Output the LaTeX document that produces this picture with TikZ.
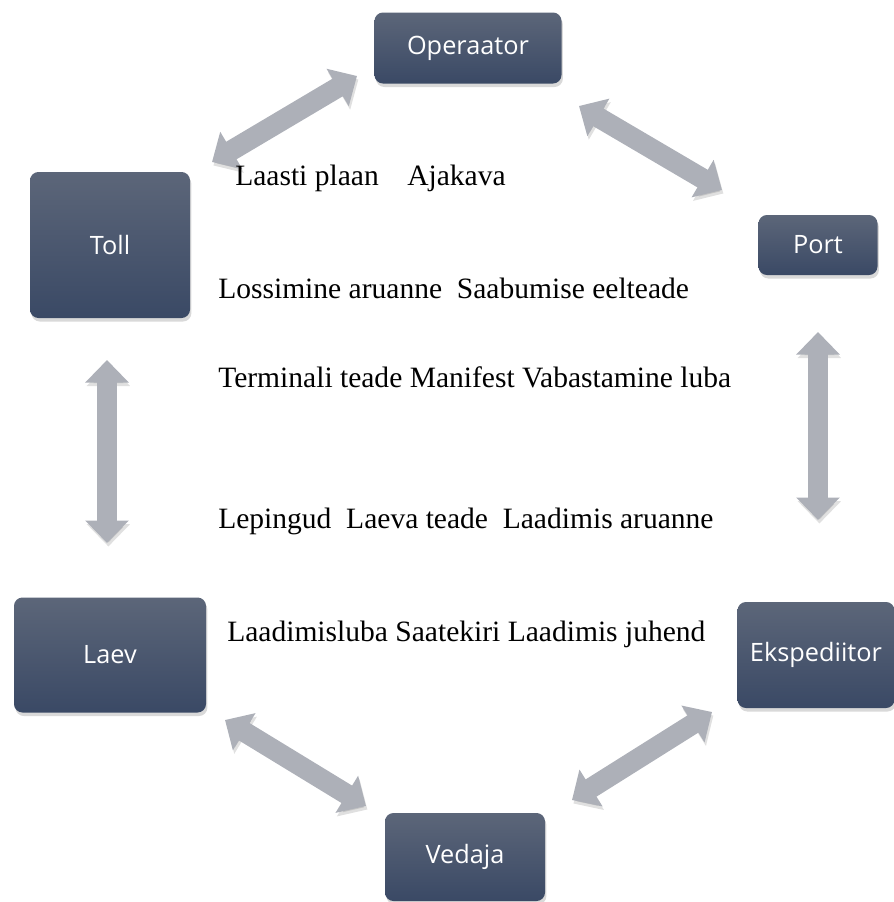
\documentclass[tikz,border=0pt]{standalone}
\usepackage{fontspec}
\setmainfont{Liberation Serif}
\newfontfamily\boxfont{Open Sans}
\usetikzlibrary{arrows.meta,shadows}

\definecolor{boxtop}{HTML}{5C6679}
\definecolor{boxbottom}{HTML}{3A4965}
\definecolor{arrowgray}{HTML}{ADB0B8}

\begin{document}
\begin{tikzpicture}[x=0.025cm, y=-0.025cm,
    party/.style={rounded corners=6pt, top color=boxtop, bottom color=boxbottom,
      text=white, font=\boxfont\fontsize{18}{20}\selectfont,
      drop shadow={shadow xshift=1pt, shadow yshift=-2.5pt, opacity=0.3}},
    flow/.style={line width=14.5pt, draw=arrowgray,
      {Triangle[width=30pt,length=16pt]}-{Triangle[width=30pt,length=16pt]},
      preaction={draw=black, opacity=0.12, transform canvas={shift={(1pt,-2.5pt)}}}},
    doc/.style={anchor=base west, inner sep=0pt, font=\fontsize{21}{24}\selectfont}]
  \def\px{0.025cm}
  \useasboundingbox (0,0) rectangle (894,902);

  \node[party, minimum width=187*\px, minimum height=71*\px] (operaator) at (468,48) {Operaator};
  \node[party, minimum width=160*\px, minimum height=146*\px] (toll) at (110,245) {Toll};
  \node[party, minimum width=119*\px, minimum height=60*\px] (port) at (818,245) {Port};
  \node[party, minimum width=157*\px, minimum height=106*\px] (ekspediitor) at (816,655) {Ekspediitor};
  \node[party, minimum width=192*\px, minimum height=115*\px] (laev) at (110,655) {Laev};
  \node[party, minimum width=160*\px, minimum height=88*\px] (vedaja) at (465,857) {Vedaja};

  % arrow ends
  \coordinate (toll-op) at (212,162);
  \coordinate (op-toll) at (357,76);
  \coordinate (op-port) at (579,106);
  \coordinate (port-op) at (722,190);
  \coordinate (toll-laev) at (107,360);
  \coordinate (laev-toll) at (107,543);
  \coordinate (port-eksp) at (818,332);
  \coordinate (eksp-port) at (818,520);
  \coordinate (laev-ved) at (225,720);
  \coordinate (ved-laev) at (366,806);
  \coordinate (ved-eksp) at (572,800);
  \coordinate (eksp-ved) at (712,712);

  \draw[flow] (toll-op) -- (op-toll);
  \draw[flow] (op-port) -- (port-op);
  \draw[flow] (toll-laev) -- (laev-toll);
  \draw[flow] (port-eksp) -- (eksp-port);
  \draw[flow] (laev-ved) -- (ved-laev);
  \draw[flow] (ved-eksp) -- (eksp-ved);

  \node[doc] (docs1) at (235,185) {Laasti plaan\hspace*{15pt} Ajakava};
  \node[doc] (docs2) at (218,298) {Lossimine aruanne\ \ Saabumise eelteade};
  \node[doc] (docs3) at (218,387) {Terminali teade Manifest Vabastamine luba};
  \node[doc] (docs4) at (218,528) {Lepingud\ \ Laeva teade\ \ Laadimis aruanne};
  \node[doc] (docs5) at (227,641) {Laadimisluba Saatekiri Laadimis juhend};
\end{tikzpicture}
\end{document}
